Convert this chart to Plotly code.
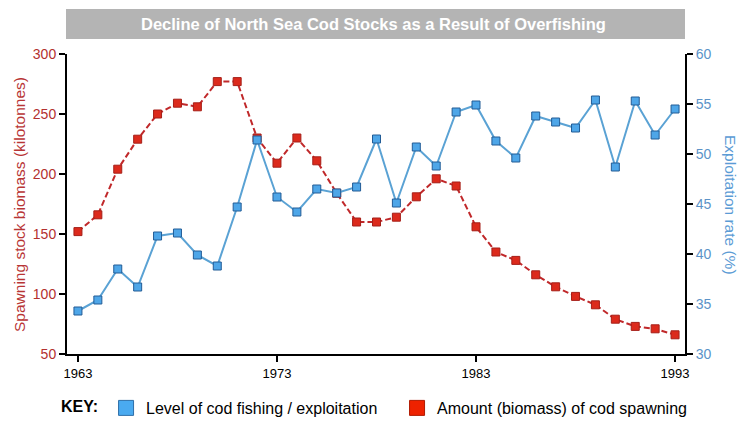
import plotly.graph_objects as go

years = list(range(1963, 1994))
biomass = [152, 166, 204, 229, 250, 259, 256, 277, 277, 230,
           209, 230, 211, 184, 160, 160, 164, 181, 196, 190,
           156, 135, 128, 116, 106, 98, 91, 79, 73, 71, 66]
exploitation = [34.3, 35.4, 38.5, 36.7, 41.8, 42.1, 39.9, 38.8, 44.7, 51.4,
                45.7, 44.2, 46.5, 46.1, 46.7, 51.5, 45.1, 50.7, 48.8, 54.2,
                54.9, 51.3, 49.6, 53.8, 53.2, 52.6, 55.4, 48.7, 55.3, 51.9, 54.5]
x_ticks = [1963, 1973, 1983, 1993]
title_text = "Decline of North Sea Cod Stocks as a Result of Overfishing"
left_title = "Spawning stock biomass (kilotonnes)"
right_title = "Exploitation rate (%)"
legend_names = ["Level of cod fishing / exploitation", "Amount (biomass) of cod spawning"]

FONT = "Arial, Liberation Sans, sans-serif"
RED_TXT = "#b3312f"
BLUE_TXT = "#5b93c8"

# page body adds an 8px margin; the figure is laid out in screen pixels minus 8
OFF = 8
W, H = 747 - OFF, 428 - OFF
L, T = 67 - OFF, 54 - OFF
R, B = W - (685 - OFF), H - (354 - OFF)
PW, PH = W - L - R, H - T - B


def px_x(px):
    return (px - OFF - L) / PW


def px_y(py):
    return (H - B - (py - OFF)) / PH


fig = go.Figure()
fig.add_trace(go.Scatter(
    x=years, y=exploitation, yaxis="y2", mode="lines+markers",
    line=dict(color="#5aa2d4", width=2),
    marker=dict(symbol="square", size=8, color="#4ea6e8", line=dict(color="#225c96", width=1)),
    showlegend=False))
fig.add_trace(go.Scatter(
    x=years, y=biomass, mode="lines+markers",
    line=dict(color="#c0282a", width=2, dash="6px,3px"),
    marker=dict(symbol="square", size=8, color="#dc2a1c", line=dict(color="#a51f18", width=1)),
    showlegend=False))
# legend entries
fig.add_trace(go.Scatter(x=[None], y=[None], mode="markers", name=legend_names[0],
                         marker=dict(symbol="square", size=15, color="#4aaaf0", line=dict(color="#2f6fa8", width=1))))
fig.add_trace(go.Scatter(x=[None], y=[None], mode="markers", name=legend_names[1],
                         marker=dict(symbol="square", size=15, color="#ee2200", line=dict(color="#b01a00", width=1))))

fig.update_layout(
    width=W, height=H,
    margin=dict(l=L, r=R, t=T, b=B, autoexpand=False),
    paper_bgcolor="white", plot_bgcolor="white",
    font=dict(family=FONT, size=14, color="black"),
    showlegend=True,
    legend=dict(orientation="h", xref="container", yref="container",
                x=(59 - OFF) / W, xanchor="left", y=(H - (391 - OFF)) / H, yanchor="top",
                title=dict(text="<b>KEY:</b>", side="left", font=dict(size=16)),
                entrywidth=246,
                font=dict(size=16), itemsizing="trace", bgcolor="rgba(0,0,0,0)"),
    xaxis=dict(range=[1962.45, 1993.5], tickvals=x_ticks, ticks="outside", ticklen=6,
               tickwidth=1.5, tickcolor="black", showline=True, linecolor="black", linewidth=2,
               showgrid=False, zeroline=False, automargin=False,
               tickfont=dict(size=13, color="black")),
    yaxis=dict(range=[50, 300], dtick=50, ticks="outside", ticklen=6, tickwidth=1.5,
               tickcolor="black", showline=True, linecolor="black", linewidth=2,
               showgrid=False, zeroline=False, automargin=False,
               tickfont=dict(size=14, color=RED_TXT)),
    yaxis2=dict(range=[30, 60], dtick=5, overlaying="y", side="right", ticks="outside",
                ticklen=6, tickwidth=1.5, tickcolor="black", showline=True, linecolor="black",
                linewidth=2, showgrid=False, zeroline=False, automargin=False,
                tickfont=dict(size=14, color=BLUE_TXT)),
    shapes=[dict(type="rect", xref="paper", yref="paper", x0=px_x(66), x1=px_x(685),
                 y0=px_y(39), y1=px_y(9), fillcolor="#b4b4b4", line=dict(width=0), layer="below")],
    annotations=[
        dict(text="<b>" + title_text + "</b>", xref="paper", yref="paper", x=px_x(373), y=px_y(24),
             xanchor="center", yanchor="middle", showarrow=False,
             font=dict(size=16.5, color="white", family=FONT)),
        dict(text=left_title, xref="paper", yref="paper", x=px_x(19), y=px_y(205), textangle=-90,
             xanchor="center", yanchor="middle", showarrow=False,
             font=dict(size=15.5, color="#b83535", family=FONT)),
        dict(text=right_title, xref="paper", yref="paper", x=px_x(731), y=px_y(205), textangle=90,
             xanchor="center", yanchor="middle", showarrow=False,
             font=dict(size=15.5, color="#5b9bd5", family=FONT)),
    ],
)

fig.write_html("out.html")
